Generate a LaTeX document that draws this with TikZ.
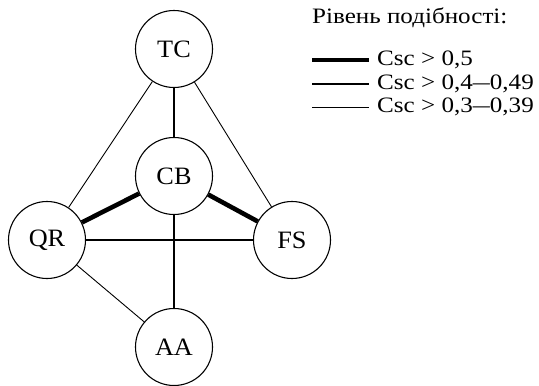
\documentclass[tikz,border=0pt]{standalone}
\usepackage{fontspec}
\setmainfont{Liberation Serif}
\newfontfamily\legfont[FakeStretch=1.14]{Liberation Serif}
\newfontfamily\vertfont[FakeStretch=1.05]{Liberation Serif}
% a narrower range dash
\newcommand{\rangedash}{\scalebox{0.68}[1]{—}}
\begin{document}
\begin{tikzpicture}[x=1pt,y=-1pt,
  vert/.style={circle,draw,line width=1.1pt,minimum size=77pt,inner sep=0pt,
    font=\vertfont\fontsize{25}{25}\selectfont},
  strong/.style={line width=4.6pt},
  medium/.style={line width=2.1pt},
  weak/.style={line width=0.9pt},
  legtext/.style={anchor=west,inner sep=0pt,font=\legfont\fontsize{22}{22}\selectfont}]
\useasboundingbox (0,0) rectangle (539,386);

% vertices
\node[vert] (TC) at (174,49) {TC};
\node[vert] (CB) at (174,176) {CB};
\node[vert] (QR) at (47,240) {QR};
\node[vert] (FS) at (292,240) {FS};
\node[vert] (AA) at (174,347) {AA};

% edges, by similarity level
\draw[weak] (TC) -- (QR);
\draw[weak] (TC) -- (FS);
\draw[weak] (QR) -- (AA);
\draw[medium] (TC) -- (CB);
\draw[medium] (CB) -- (AA);
\draw[medium] (QR) -- (FS);
\draw[strong] (CB) -- (QR);
\draw[strong] (CB) -- (FS);

% legend
\node[legtext] (title) at (312,18) {Рівень подібності:};
\coordinate (l1a) at (312,60); \coordinate (l1b) at (369,60);
\coordinate (l2a) at (312,84); \coordinate (l2b) at (369,84);
\coordinate (l3a) at (312,107); \coordinate (l3b) at (369,107);
\draw[strong] (l1a) -- (l1b);
\draw[medium] (l2a) -- (l2b);
\draw[weak] (l3a) -- (l3b);
\node[legtext] (t1) at (377,60) {Csc > 0,5};
\node[legtext] (t2) at (377,84) {Csc > 0,4\rangedash0,49};
\node[legtext] (t3) at (377,107) {Csc > 0,3\rangedash0,39};
\end{tikzpicture}
\end{document}
